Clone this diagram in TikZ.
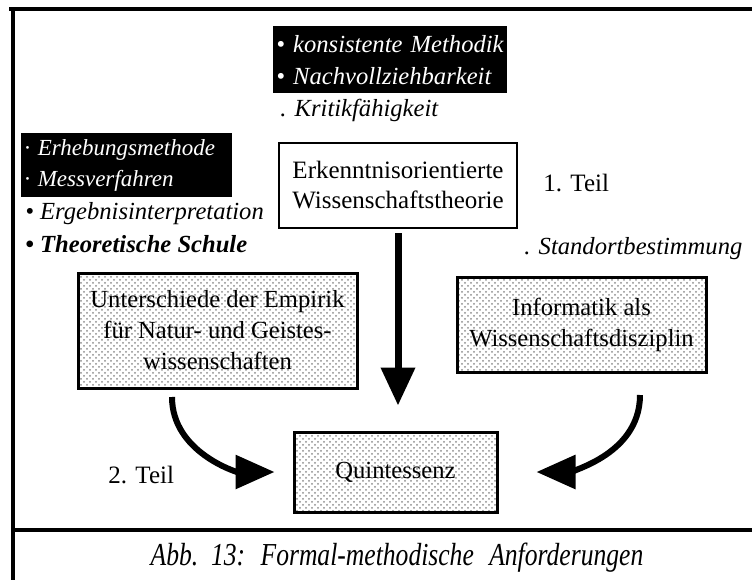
\documentclass[tikz,border=0pt]{standalone}
\usepackage{fontspec}
\setmainfont{Liberation Serif}
\usepackage{tikz}
\usetikzlibrary{arrows.meta, patterns}

\begin{document}
\begin{tikzpicture}[x=0.5pt, y=-0.5pt,
  framerule/.style={line width=2.2pt},
  whitebox/.style={draw, line width=1.3pt, fill=white, align=center, inner sep=2pt,
    font=\fontsize{12.5}{15}\selectfont},
  dotbox/.style={draw, line width=1.5pt, pattern=crosshatch dots, pattern color=black!45,
    align=center, inner sep=2pt, font=\fontsize{12.3}{15.5}\selectfont},
  blackbox/.style={fill=black, text=white, align=left, inner xsep=1.5pt, inner ysep=1pt,
    anchor=north west, font=\fontsize{12.3}{16}\selectfont\itshape},
  note/.style={anchor=west, inner sep=0pt, font=\fontsize{12.3}{15}\selectfont\itshape},
  partlabel/.style={anchor=west, inner sep=0pt, font=\fontsize{12.5}{15}\selectfont},
  bigarrow/.style={line width=3.5pt, -{Triangle[length=19pt, width=16.5pt]}},
  bendarrow/.style={line width=3pt, -{Triangle[length=19.5pt, width=16.5pt]}}]
  \useasboundingbox (0,0) rectangle (752,580);

  % Frame
  \draw[framerule] (9,9) -- (752,9);
  \draw[framerule] (13,9) -- (13,580);
  \draw[framerule] (13,530) -- (752,530);

  % Requirements lists
  \node[blackbox, text width=114pt, minimum height=33.5pt] (methodik) at (273,26)
    {• konsistente Methodik\\• Nachvollziehbarkeit};
  \node[note] (kritik) at (280,110) {. Kritikfähigkeit};
  \node[blackbox, text width=102.5pt, minimum height=32pt,
    font=\fontsize{11.5}{15.5}\selectfont\itshape] (erhebung) at (21,133)
    {· Erhebungsmethode\\· Messverfahren};
  \node[note] (ergebnis) at (25,214) {• Ergebnisinterpretation};
  \node[note, font=\fontsize{12.3}{15}\selectfont\itshape\bfseries] (schule) at (25,244)
    {• Theoretische Schule};
  \node[note] (standort) at (524,249) {. Standortbestimmung};

  % Boxes
  \node[whitebox, minimum width=119pt, minimum height=42.5pt] (erk) at (398,185.5)
    {Erkenntnisorientierte\\Wissenschaftstheorie};
  \node[dotbox, minimum width=139.5pt, minimum height=57.5pt] (empirik) at (217.5,330.5)
    {Unterschiede der Empirik\\für Natur- und Geistes-\\wissenschaften};
  \node[dotbox, minimum width=124.5pt, minimum height=47.5pt] (informatik) at (581.5,324.5)
    {Informatik als\\Wissenschaftsdisziplin};
  \node[dotbox, minimum width=101.5pt, minimum height=40pt] (quint) at (395.5,472)
    {Quintessenz};

  % Part labels
  \node[partlabel] (teil1) at (543,183) {1. Teil};
  \node[partlabel] (teil2) at (108,475) {2. Teil};

  % Arrows
  \coordinate (lstart) at (172,397);
  \coordinate (rstart) at (640,395);
  \draw[bigarrow, shorten <=2pt, shorten >=12.5pt] (erk.south) -- (erk.south |- quint.north);
  \draw[bendarrow, shorten >=9pt] (lstart) to[out=-90, in=180] (quint.west);
  \draw[bendarrow, shorten >=19pt] (rstart) to[out=-90, in=0] (quint.east);

  % Caption
  \node[font=\fontsize{16}{18}\selectfont\itshape] (caption) at (397,558)
    {\scalebox{0.8}[1]{Abb.\hspace{.5em}13:\hspace{.6em}Formal-methodische\hspace{.6em}Anforderungen}};
\end{tikzpicture}
\end{document}
